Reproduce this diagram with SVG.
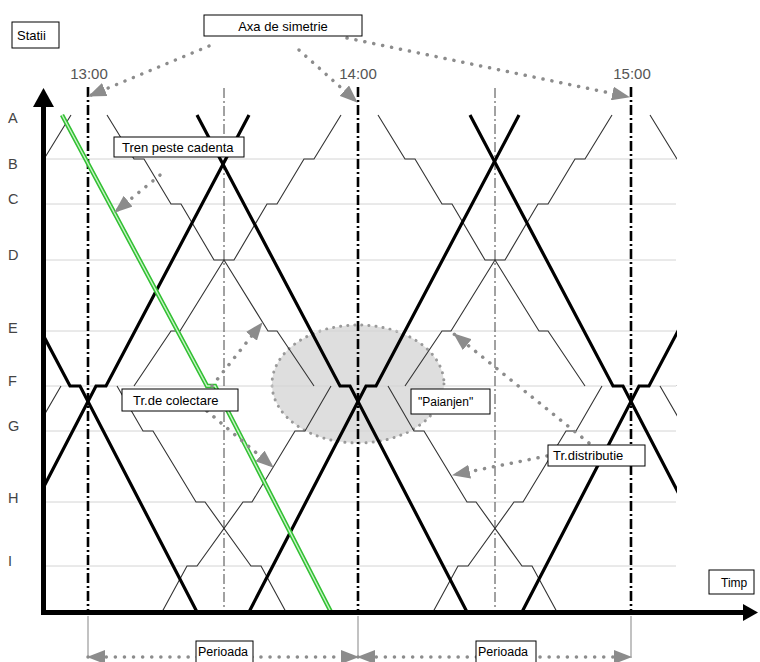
<svg xmlns="http://www.w3.org/2000/svg" xmlns:xlink="http://www.w3.org/1999/xlink" width="760" height="662" viewBox="0 0 760 662">
<style>
.grid{stroke:#d4d4d4;stroke-width:1}
.hour{stroke:#000;stroke-width:2.6;stroke-dasharray:10 3 2 3}
.half{stroke:#444;stroke-width:1;stroke-dasharray:10 3 2 3}
.thin{fill:none;stroke:#333;stroke-width:1.1}
.thick{fill:none;stroke:#000;stroke-width:3.2}
.dot{fill:none;stroke:#8c8c8c;stroke-width:3.5;stroke-dasharray:0.1 9;stroke-linecap:round}
.box{fill:#fff;stroke:#000;stroke-width:1}
.lbl{font-family:"Liberation Sans",Arial,sans-serif;font-size:13px;fill:#000}
.st{font-family:"Liberation Sans",Arial,sans-serif;font-size:14.5px;fill:#444}
.hr{font-family:"Liberation Sans",Arial,sans-serif;font-size:15px;fill:#555;text-anchor:middle}
.dim{stroke:#999;stroke-width:1.2}
</style>
<defs>
<marker id="ah" markerUnits="userSpaceOnUse" markerWidth="18" markerHeight="14" refX="17" refY="7" orient="auto-start-reverse" viewBox="0 0 18 14">
<path d="M0,0 L18,7 L0,14 z" fill="#8c8c8c"/>
</marker>
<clipPath id="plot"><rect x="46" y="80" width="631" height="532"/></clipPath>
<g id="thinset">
<path class="thin" d="M-117,115 L-90,159 L-80,159 L-53,204 L-43,204 L-10,260 L0,260 L44,331 L53,331 L90,386"/>
<path class="thin" d="M-90,386 L-53,331 L-44,331 L0,260 L10,260 L43,204 L53,204 L80,159 L90,159 L117,115"/>
<path class="thin" d="M-107,386 L-81,431 L-71,431 L-28,502 L-19,502 L27,566 L37,566 L62,612"/>
<path class="thin" d="M-62,612 L-37,566 L-27,566 L19,502 L28,502 L71,431 L81,431 L107,386"/>
</g>
<g id="thickset">
<path class="thick" d="M-161,115 L-18,386 L-8,386 L109,612"/>
<path class="thick" d="M-109,612 L8,386 L18,386 L161,115"/>
</g>
</defs>
<rect width="760" height="662" fill="#fff"/>

<g id="spider-area">
<ellipse cx="358" cy="384" rx="86" ry="59" fill="#dedede" stroke="#9a9a9a" stroke-width="3" stroke-dasharray="0.1 7" stroke-linecap="round"/>
</g>

<g id="grid">
<line class="grid" x1="46" y1="159" x2="676" y2="159"/>
<line class="grid" x1="46" y1="204" x2="676" y2="204"/>
<line class="grid" x1="46" y1="260" x2="676" y2="260"/>
<line class="grid" x1="46" y1="331" x2="676" y2="331"/>
<line class="grid" x1="46" y1="386" x2="676" y2="386"/>
<line class="grid" x1="46" y1="431" x2="676" y2="431"/>
<line class="grid" x1="46" y1="502" x2="676" y2="502"/>
<line class="grid" x1="46" y1="566" x2="676" y2="566"/>
</g>

<g id="time-lines">
<line class="hour" x1="88" y1="87" x2="88" y2="612"/>
<line class="hour" x1="358" y1="87" x2="358" y2="612"/>
<line class="hour" x1="631" y1="87" x2="631" y2="612"/>
<line class="half" x1="224" y1="88" x2="224" y2="612"/>
<line class="half" x1="495" y1="88" x2="495" y2="612"/>
</g>

<g id="trains" clip-path="url(#plot)">
<use xlink:href="#thinset" transform="translate(-46,0)"/>
<use xlink:href="#thinset" transform="translate(224,0)"/>
<use xlink:href="#thinset" transform="translate(495,0)"/>
<use xlink:href="#thinset" transform="translate(767,0)"/>
<use xlink:href="#thickset" transform="translate(88,0)"/>
<use xlink:href="#thickset" transform="translate(358,0)"/>
<use xlink:href="#thickset" transform="translate(631,0)"/>
<g id="green-train">
<path d="M62,115 L207,386 L215,386 L331,612" fill="none" stroke="#33c033" stroke-width="4.5"/>
<path d="M62,115 L207,386 L215,386 L331,612" fill="none" stroke="#c8f3c8" stroke-width="1.4"/>
</g>
</g>

<g id="axes">
<line x1="43.5" y1="105" x2="43.5" y2="615" stroke="#000" stroke-width="5"/>
<polygon points="43.5,88 33,107 54,107" fill="#000"/>
<line x1="41" y1="612.5" x2="745" y2="612.5" stroke="#000" stroke-width="5"/>
<polygon points="758,612.5 743,604 743,621" fill="#000"/>
</g>

<g id="station-labels">
<text class="st" x="8" y="123">A</text>
<text class="st" x="8" y="169">B</text>
<text class="st" x="8" y="204">C</text>
<text class="st" x="8" y="260">D</text>
<text class="st" x="8" y="333">E</text>
<text class="st" x="8" y="386">F</text>
<text class="st" x="8" y="431">G</text>
<text class="st" x="8" y="503">H</text>
<text class="st" x="8" y="566">I</text>
</g>

<g id="hour-labels">
<text class="hr" x="89" y="79">13:00</text>
<text class="hr" x="358" y="79">14:00</text>
<text class="hr" x="632" y="79">15:00</text>
</g>

<g id="connectors">
<path class="dot" d="M209,46 L89,96" marker-end="url(#ah)"/>
<path class="dot" d="M299,50 L357,102" marker-end="url(#ah)"/>
<path class="dot" d="M347,38 L629,97" marker-end="url(#ah)"/>
<path class="dot" d="M160,175 L115,212" marker-end="url(#ah)"/>
<path class="dot" d="M212,386 L262,323" marker-end="url(#ah)"/>
<path class="dot" d="M207,411 L273,467" marker-end="url(#ah)"/>
<path class="dot" d="M589,443 L454,334" marker-end="url(#ah)"/>
<path class="dot" d="M547,456 L453,475" marker-end="url(#ah)"/>
<line class="dim" x1="88" y1="616" x2="88" y2="658"/>
<line class="dim" x1="358" y1="616" x2="358" y2="658"/>
<line class="dim" x1="631" y1="616" x2="631" y2="658"/>
<path class="dot" d="M88,657 L358,657" marker-start="url(#ah)" marker-end="url(#ah)"/>
<path class="dot" d="M358,657 L631,657" marker-start="url(#ah)" marker-end="url(#ah)"/>
</g>

<g id="statii">
<rect class="box" x="12" y="22" width="47" height="26"/>
<text class="lbl" x="17" y="39.5">Statii</text>
</g>
<g id="axa-de-simetrie">
<rect class="box" x="204" y="15" width="158" height="21"/>
<text class="lbl" x="283" y="31" text-anchor="middle">Axa de simetrie</text>
</g>
<g id="tren-peste-cadenta">
<rect class="box" x="114" y="137" width="130" height="20"/>
<text class="lbl" x="122" y="152">Tren peste cadenta</text>
</g>
<g id="tr-de-colectare">
<rect class="box" x="122" y="389" width="116" height="22"/>
<text class="lbl" x="133" y="405">Tr.de colectare</text>
</g>
<g id="paianjen">
<rect class="box" x="411" y="389" width="79" height="25"/>
<text class="lbl" x="418" y="406" style="font-size:12px">"Paianjen"</text>
</g>
<g id="tr-distributie">
<rect class="box" x="548" y="445" width="97" height="21"/>
<text class="lbl" x="553" y="460">Tr.distributie</text>
</g>
<g id="timp">
<rect class="box" x="709" y="570" width="45" height="24"/>
<text class="lbl" x="721" y="587" style="font-size:12px">Timp</text>
</g>
<g id="perioada-1">
<rect class="box" x="196" y="641" width="57" height="25"/>
<text class="lbl" x="198" y="656" style="font-size:12.5px">Perioada</text>
</g>
<g id="perioada-2">
<rect class="box" x="476" y="641" width="60" height="25"/>
<text class="lbl" x="478" y="656" style="font-size:12.5px">Perioada</text>
</g>
</svg>
